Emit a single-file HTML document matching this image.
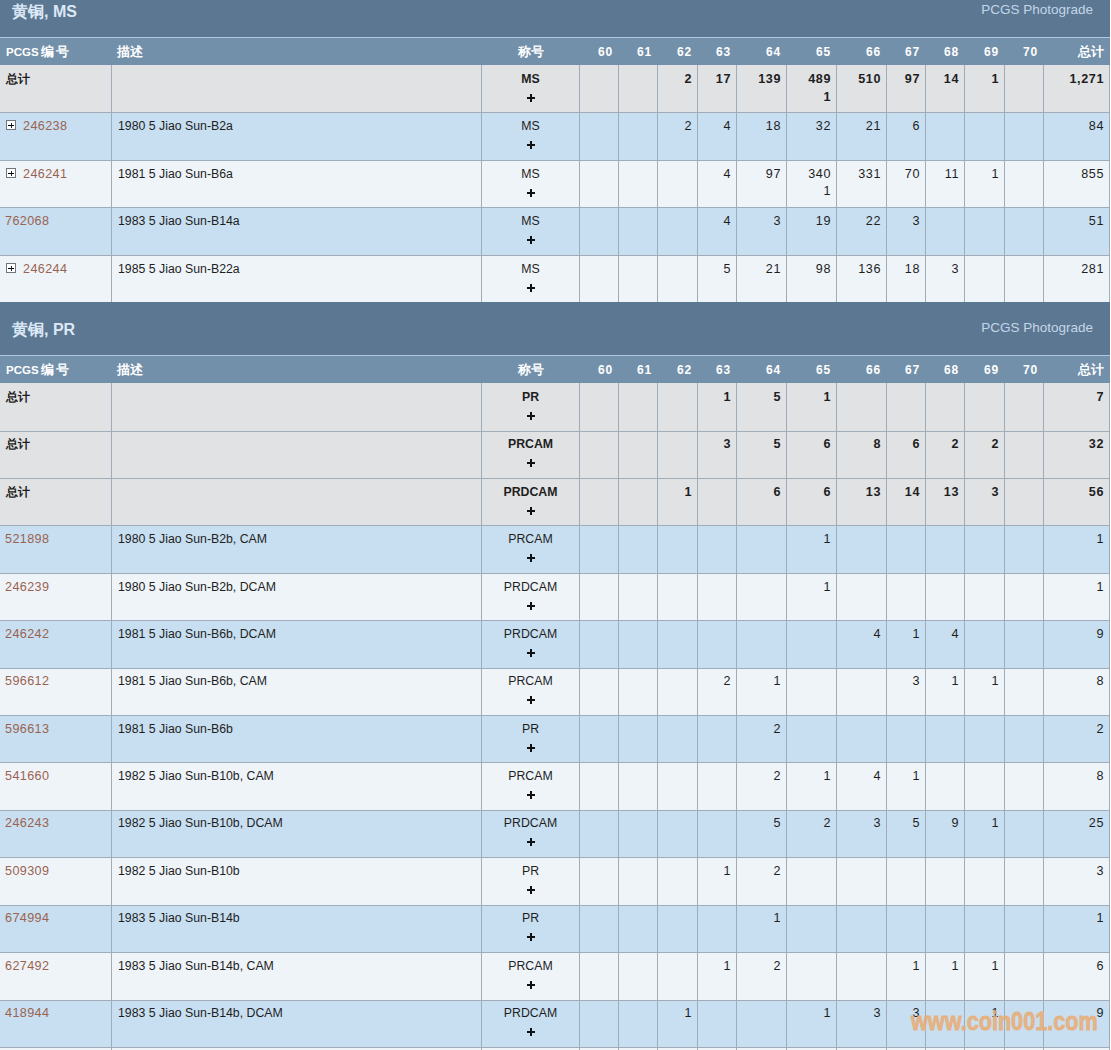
<!DOCTYPE html><html><head><meta charset="utf-8"><style>
html,body{margin:0;padding:0;background:#ffffff;width:1111px;height:1050px;overflow:hidden;}
body{position:relative;font-family:"Liberation Sans",sans-serif;}
body>div{position:absolute;box-sizing:border-box;white-space:nowrap;}
.title{font-size:16px;font-weight:bold;color:#dbe8f5;line-height:22px;}
.photo{font-size:13.5px;color:#c3d6e9;line-height:18px;text-align:right;}
.hd{font-size:11.5px;font-weight:bold;color:#ffffff;line-height:15px;}
.hdn{font-size:12px;letter-spacing:0.8px;}
.hdc{font-size:12.5px;font-weight:bold;color:#ffffff;line-height:15px;}
.tc{font-size:12.3px;color:#1e1e1e;line-height:15px;}
.tc.b{font-weight:bold;}
.num{font-size:12.6px;letter-spacing:0.6px;}
.tz{font-weight:600;}
.lk{color:#9a6350;font-size:12.6px;letter-spacing:0.4px;}
.pl{width:8px;height:8px;}
.pl::before{content:"";position:absolute;left:0;top:3px;width:8px;height:2px;background:#111;}
.pl::after{content:"";position:absolute;left:3px;top:0;width:2px;height:8px;background:#111;}
.box{width:10px;height:10px;border:1px solid #6e7780;background:#fff;}
.box::before{content:"";position:absolute;left:1px;top:4px;width:6px;height:1px;background:#000;}
.box::after{content:"";position:absolute;left:4px;top:2px;width:1px;height:5px;background:#222;}
.wm{font-size:25px;font-weight:bold;color:rgba(234,170,110,0.8);line-height:30px;transform:scaleX(0.865);transform-origin:0 0;-webkit-text-stroke:0.9px rgba(234,170,110,0.8);}
</style></head><body><div style="left:0px;top:-16px;width:1110px;height:53px;background:#5c7791"></div>
<div style="left:0px;top:37px;width:1110px;height:1px;background:#afc6db"></div>
<div class="title" style="left:12px;top:1px"><span class="tz">黄铜</span>, MS</div>
<div class="photo" style="left:900px;width:193px;top:1px">PCGS Photograde</div>
<div style="left:0px;top:38px;width:1110px;height:27px;background:#7290aa"></div>
<div class="hd" style="left:6px;top:45px">PCGS</div>
<div class="hdc" style="left:41px;top:45px">编</div>
<div class="hdc" style="left:56px;top:45px">号</div>
<div class="hdc" style="left:117px;top:45px">描述</div>
<div class="hdc" style="left:482px;width:97px;text-align:center;top:45px">称号</div>
<div class="hd hdn" style="left:580px;top:45px;width:33px;text-align:right">60</div>
<div class="hd hdn" style="left:619px;top:45px;width:33px;text-align:right">61</div>
<div class="hd hdn" style="left:658px;top:45px;width:34px;text-align:right">62</div>
<div class="hd hdn" style="left:698px;top:45px;width:33px;text-align:right">63</div>
<div class="hd hdn" style="left:737px;top:45px;width:44px;text-align:right">64</div>
<div class="hd hdn" style="left:787px;top:45px;width:44px;text-align:right">65</div>
<div class="hd hdn" style="left:837px;top:45px;width:44px;text-align:right">66</div>
<div class="hd hdn" style="left:887px;top:45px;width:33px;text-align:right">67</div>
<div class="hd hdn" style="left:926px;top:45px;width:33px;text-align:right">68</div>
<div class="hd hdn" style="left:965px;top:45px;width:34px;text-align:right">69</div>
<div class="hd hdn" style="left:1005px;top:45px;width:33px;text-align:right">70</div>
<div class="hdc" style="left:1044px;width:60px;text-align:right;top:45px">总计</div>
<div style="left:0px;top:65px;width:1110px;height:47px;background:#e1e2e4"></div>
<div style="left:0px;top:112px;width:1110px;height:1px;background:#9fadba"></div>
<div style="left:111px;top:65px;width:1px;height:47px;background:#9fadba"></div>
<div style="left:481px;top:65px;width:1px;height:47px;background:#9fadba"></div>
<div style="left:579px;top:65px;width:1px;height:47px;background:#9fadba"></div>
<div style="left:618px;top:65px;width:1px;height:47px;background:#9fadba"></div>
<div style="left:657px;top:65px;width:1px;height:47px;background:#9fadba"></div>
<div style="left:697px;top:65px;width:1px;height:47px;background:#9fadba"></div>
<div style="left:736px;top:65px;width:1px;height:47px;background:#9fadba"></div>
<div style="left:786px;top:65px;width:1px;height:47px;background:#9fadba"></div>
<div style="left:836px;top:65px;width:1px;height:47px;background:#9fadba"></div>
<div style="left:886px;top:65px;width:1px;height:47px;background:#9fadba"></div>
<div style="left:925px;top:65px;width:1px;height:47px;background:#9fadba"></div>
<div style="left:964px;top:65px;width:1px;height:47px;background:#9fadba"></div>
<div style="left:1004px;top:65px;width:1px;height:47px;background:#9fadba"></div>
<div style="left:1043px;top:65px;width:1px;height:47px;background:#9fadba"></div>
<div style="left:1109px;top:65px;width:1px;height:47px;background:#9fadba"></div>
<div class="tc b" style="left:6px;top:72px">总计</div>
<div class="tc b des" style="left:482px;top:72px;width:97px;text-align:center">MS</div>
<div class="pl" style="left:527px;top:94px"></div>
<div class="tc b num" style="left:658px;top:72px;width:34px;text-align:right">2</div>
<div class="tc b num" style="left:698px;top:72px;width:33px;text-align:right">17</div>
<div class="tc b num" style="left:737px;top:72px;width:44px;text-align:right">139</div>
<div class="tc b num" style="left:787px;top:72px;width:44px;text-align:right">489</div>
<div class="tc b num" style="left:787px;top:90px;width:44px;text-align:right">1</div>
<div class="tc b num" style="left:837px;top:72px;width:44px;text-align:right">510</div>
<div class="tc b num" style="left:887px;top:72px;width:33px;text-align:right">97</div>
<div class="tc b num" style="left:926px;top:72px;width:33px;text-align:right">14</div>
<div class="tc b num" style="left:965px;top:72px;width:34px;text-align:right">1</div>
<div class="tc b num" style="left:1044px;top:72px;width:60px;text-align:right">1,271</div>
<div style="left:0px;top:113px;width:1110px;height:47px;background:#c8def1"></div>
<div style="left:0px;top:160px;width:1110px;height:1px;background:#9fadba"></div>
<div style="left:111px;top:113px;width:1px;height:47px;background:#9fadba"></div>
<div style="left:481px;top:113px;width:1px;height:47px;background:#9fadba"></div>
<div style="left:579px;top:113px;width:1px;height:47px;background:#9fadba"></div>
<div style="left:618px;top:113px;width:1px;height:47px;background:#9fadba"></div>
<div style="left:657px;top:113px;width:1px;height:47px;background:#9fadba"></div>
<div style="left:697px;top:113px;width:1px;height:47px;background:#9fadba"></div>
<div style="left:736px;top:113px;width:1px;height:47px;background:#9fadba"></div>
<div style="left:786px;top:113px;width:1px;height:47px;background:#9fadba"></div>
<div style="left:836px;top:113px;width:1px;height:47px;background:#9fadba"></div>
<div style="left:886px;top:113px;width:1px;height:47px;background:#9fadba"></div>
<div style="left:925px;top:113px;width:1px;height:47px;background:#9fadba"></div>
<div style="left:964px;top:113px;width:1px;height:47px;background:#9fadba"></div>
<div style="left:1004px;top:113px;width:1px;height:47px;background:#9fadba"></div>
<div style="left:1043px;top:113px;width:1px;height:47px;background:#9fadba"></div>
<div style="left:1109px;top:113px;width:1px;height:47px;background:#9fadba"></div>
<div class="box" style="left:6px;top:120px"></div>
<div class="tc" style="left:23px;top:119px;width:88px;text-align:left"><span class="lk">246238</span></div>
<div class="tc" style="left:118px;top:119px;width:360px;text-align:left">1980 5 Jiao Sun-B2a</div>
<div class="tc des" style="left:482px;top:119px;width:97px;text-align:center">MS</div>
<div class="pl" style="left:527px;top:141px"></div>
<div class="tc num" style="left:658px;top:119px;width:34px;text-align:right">2</div>
<div class="tc num" style="left:698px;top:119px;width:33px;text-align:right">4</div>
<div class="tc num" style="left:737px;top:119px;width:44px;text-align:right">18</div>
<div class="tc num" style="left:787px;top:119px;width:44px;text-align:right">32</div>
<div class="tc num" style="left:837px;top:119px;width:44px;text-align:right">21</div>
<div class="tc num" style="left:887px;top:119px;width:33px;text-align:right">6</div>
<div class="tc num" style="left:1044px;top:119px;width:60px;text-align:right">84</div>
<div style="left:0px;top:161px;width:1110px;height:46px;background:#eff4f9"></div>
<div style="left:0px;top:207px;width:1110px;height:1px;background:#9fadba"></div>
<div style="left:111px;top:161px;width:1px;height:46px;background:#9fadba"></div>
<div style="left:481px;top:161px;width:1px;height:46px;background:#9fadba"></div>
<div style="left:579px;top:161px;width:1px;height:46px;background:#9fadba"></div>
<div style="left:618px;top:161px;width:1px;height:46px;background:#9fadba"></div>
<div style="left:657px;top:161px;width:1px;height:46px;background:#9fadba"></div>
<div style="left:697px;top:161px;width:1px;height:46px;background:#9fadba"></div>
<div style="left:736px;top:161px;width:1px;height:46px;background:#9fadba"></div>
<div style="left:786px;top:161px;width:1px;height:46px;background:#9fadba"></div>
<div style="left:836px;top:161px;width:1px;height:46px;background:#9fadba"></div>
<div style="left:886px;top:161px;width:1px;height:46px;background:#9fadba"></div>
<div style="left:925px;top:161px;width:1px;height:46px;background:#9fadba"></div>
<div style="left:964px;top:161px;width:1px;height:46px;background:#9fadba"></div>
<div style="left:1004px;top:161px;width:1px;height:46px;background:#9fadba"></div>
<div style="left:1043px;top:161px;width:1px;height:46px;background:#9fadba"></div>
<div style="left:1109px;top:161px;width:1px;height:46px;background:#9fadba"></div>
<div class="box" style="left:6px;top:168px"></div>
<div class="tc" style="left:23px;top:167px;width:88px;text-align:left"><span class="lk">246241</span></div>
<div class="tc" style="left:118px;top:167px;width:360px;text-align:left">1981 5 Jiao Sun-B6a</div>
<div class="tc des" style="left:482px;top:167px;width:97px;text-align:center">MS</div>
<div class="pl" style="left:527px;top:189px"></div>
<div class="tc num" style="left:698px;top:167px;width:33px;text-align:right">4</div>
<div class="tc num" style="left:737px;top:167px;width:44px;text-align:right">97</div>
<div class="tc num" style="left:787px;top:167px;width:44px;text-align:right">340</div>
<div class="tc num" style="left:787px;top:184px;width:44px;text-align:right">1</div>
<div class="tc num" style="left:837px;top:167px;width:44px;text-align:right">331</div>
<div class="tc num" style="left:887px;top:167px;width:33px;text-align:right">70</div>
<div class="tc num" style="left:926px;top:167px;width:33px;text-align:right">11</div>
<div class="tc num" style="left:965px;top:167px;width:34px;text-align:right">1</div>
<div class="tc num" style="left:1044px;top:167px;width:60px;text-align:right">855</div>
<div style="left:0px;top:208px;width:1110px;height:47px;background:#c8def1"></div>
<div style="left:0px;top:255px;width:1110px;height:1px;background:#9fadba"></div>
<div style="left:111px;top:208px;width:1px;height:47px;background:#9fadba"></div>
<div style="left:481px;top:208px;width:1px;height:47px;background:#9fadba"></div>
<div style="left:579px;top:208px;width:1px;height:47px;background:#9fadba"></div>
<div style="left:618px;top:208px;width:1px;height:47px;background:#9fadba"></div>
<div style="left:657px;top:208px;width:1px;height:47px;background:#9fadba"></div>
<div style="left:697px;top:208px;width:1px;height:47px;background:#9fadba"></div>
<div style="left:736px;top:208px;width:1px;height:47px;background:#9fadba"></div>
<div style="left:786px;top:208px;width:1px;height:47px;background:#9fadba"></div>
<div style="left:836px;top:208px;width:1px;height:47px;background:#9fadba"></div>
<div style="left:886px;top:208px;width:1px;height:47px;background:#9fadba"></div>
<div style="left:925px;top:208px;width:1px;height:47px;background:#9fadba"></div>
<div style="left:964px;top:208px;width:1px;height:47px;background:#9fadba"></div>
<div style="left:1004px;top:208px;width:1px;height:47px;background:#9fadba"></div>
<div style="left:1043px;top:208px;width:1px;height:47px;background:#9fadba"></div>
<div style="left:1109px;top:208px;width:1px;height:47px;background:#9fadba"></div>
<div class="tc" style="left:5px;top:214px;width:105px;text-align:left"><span class="lk">762068</span></div>
<div class="tc" style="left:118px;top:214px;width:360px;text-align:left">1983 5 Jiao Sun-B14a</div>
<div class="tc des" style="left:482px;top:214px;width:97px;text-align:center">MS</div>
<div class="pl" style="left:527px;top:236px"></div>
<div class="tc num" style="left:698px;top:214px;width:33px;text-align:right">4</div>
<div class="tc num" style="left:737px;top:214px;width:44px;text-align:right">3</div>
<div class="tc num" style="left:787px;top:214px;width:44px;text-align:right">19</div>
<div class="tc num" style="left:837px;top:214px;width:44px;text-align:right">22</div>
<div class="tc num" style="left:887px;top:214px;width:33px;text-align:right">3</div>
<div class="tc num" style="left:1044px;top:214px;width:60px;text-align:right">51</div>
<div style="left:0px;top:256px;width:1110px;height:46px;background:#eff4f9"></div>
<div style="left:0px;top:302px;width:1110px;height:1px;background:#9fadba"></div>
<div style="left:111px;top:256px;width:1px;height:46px;background:#9fadba"></div>
<div style="left:481px;top:256px;width:1px;height:46px;background:#9fadba"></div>
<div style="left:579px;top:256px;width:1px;height:46px;background:#9fadba"></div>
<div style="left:618px;top:256px;width:1px;height:46px;background:#9fadba"></div>
<div style="left:657px;top:256px;width:1px;height:46px;background:#9fadba"></div>
<div style="left:697px;top:256px;width:1px;height:46px;background:#9fadba"></div>
<div style="left:736px;top:256px;width:1px;height:46px;background:#9fadba"></div>
<div style="left:786px;top:256px;width:1px;height:46px;background:#9fadba"></div>
<div style="left:836px;top:256px;width:1px;height:46px;background:#9fadba"></div>
<div style="left:886px;top:256px;width:1px;height:46px;background:#9fadba"></div>
<div style="left:925px;top:256px;width:1px;height:46px;background:#9fadba"></div>
<div style="left:964px;top:256px;width:1px;height:46px;background:#9fadba"></div>
<div style="left:1004px;top:256px;width:1px;height:46px;background:#9fadba"></div>
<div style="left:1043px;top:256px;width:1px;height:46px;background:#9fadba"></div>
<div style="left:1109px;top:256px;width:1px;height:46px;background:#9fadba"></div>
<div class="box" style="left:6px;top:263px"></div>
<div class="tc" style="left:23px;top:262px;width:88px;text-align:left"><span class="lk">246244</span></div>
<div class="tc" style="left:118px;top:262px;width:360px;text-align:left">1985 5 Jiao Sun-B22a</div>
<div class="tc des" style="left:482px;top:262px;width:97px;text-align:center">MS</div>
<div class="pl" style="left:527px;top:284px"></div>
<div class="tc num" style="left:698px;top:262px;width:33px;text-align:right">5</div>
<div class="tc num" style="left:737px;top:262px;width:44px;text-align:right">21</div>
<div class="tc num" style="left:787px;top:262px;width:44px;text-align:right">98</div>
<div class="tc num" style="left:837px;top:262px;width:44px;text-align:right">136</div>
<div class="tc num" style="left:887px;top:262px;width:33px;text-align:right">18</div>
<div class="tc num" style="left:926px;top:262px;width:33px;text-align:right">3</div>
<div class="tc num" style="left:1044px;top:262px;width:60px;text-align:right">281</div>
<div style="left:0px;top:302px;width:1110px;height:53px;background:#5c7791"></div>
<div style="left:0px;top:355px;width:1110px;height:1px;background:#afc6db"></div>
<div class="title" style="left:12px;top:319px"><span class="tz">黄铜</span>, PR</div>
<div class="photo" style="left:900px;width:193px;top:319px">PCGS Photograde</div>
<div style="left:0px;top:356px;width:1110px;height:27px;background:#7290aa"></div>
<div class="hd" style="left:6px;top:363px">PCGS</div>
<div class="hdc" style="left:41px;top:363px">编</div>
<div class="hdc" style="left:56px;top:363px">号</div>
<div class="hdc" style="left:117px;top:363px">描述</div>
<div class="hdc" style="left:482px;width:97px;text-align:center;top:363px">称号</div>
<div class="hd hdn" style="left:580px;top:363px;width:33px;text-align:right">60</div>
<div class="hd hdn" style="left:619px;top:363px;width:33px;text-align:right">61</div>
<div class="hd hdn" style="left:658px;top:363px;width:34px;text-align:right">62</div>
<div class="hd hdn" style="left:698px;top:363px;width:33px;text-align:right">63</div>
<div class="hd hdn" style="left:737px;top:363px;width:44px;text-align:right">64</div>
<div class="hd hdn" style="left:787px;top:363px;width:44px;text-align:right">65</div>
<div class="hd hdn" style="left:837px;top:363px;width:44px;text-align:right">66</div>
<div class="hd hdn" style="left:887px;top:363px;width:33px;text-align:right">67</div>
<div class="hd hdn" style="left:926px;top:363px;width:33px;text-align:right">68</div>
<div class="hd hdn" style="left:965px;top:363px;width:34px;text-align:right">69</div>
<div class="hd hdn" style="left:1005px;top:363px;width:33px;text-align:right">70</div>
<div class="hdc" style="left:1044px;width:60px;text-align:right;top:363px">总计</div>
<div style="left:0px;top:383px;width:1110px;height:48px;background:#e1e2e4"></div>
<div style="left:0px;top:431px;width:1110px;height:1px;background:#9fadba"></div>
<div style="left:111px;top:383px;width:1px;height:48px;background:#9fadba"></div>
<div style="left:481px;top:383px;width:1px;height:48px;background:#9fadba"></div>
<div style="left:579px;top:383px;width:1px;height:48px;background:#9fadba"></div>
<div style="left:618px;top:383px;width:1px;height:48px;background:#9fadba"></div>
<div style="left:657px;top:383px;width:1px;height:48px;background:#9fadba"></div>
<div style="left:697px;top:383px;width:1px;height:48px;background:#9fadba"></div>
<div style="left:736px;top:383px;width:1px;height:48px;background:#9fadba"></div>
<div style="left:786px;top:383px;width:1px;height:48px;background:#9fadba"></div>
<div style="left:836px;top:383px;width:1px;height:48px;background:#9fadba"></div>
<div style="left:886px;top:383px;width:1px;height:48px;background:#9fadba"></div>
<div style="left:925px;top:383px;width:1px;height:48px;background:#9fadba"></div>
<div style="left:964px;top:383px;width:1px;height:48px;background:#9fadba"></div>
<div style="left:1004px;top:383px;width:1px;height:48px;background:#9fadba"></div>
<div style="left:1043px;top:383px;width:1px;height:48px;background:#9fadba"></div>
<div style="left:1109px;top:383px;width:1px;height:48px;background:#9fadba"></div>
<div class="tc b" style="left:6px;top:390px">总计</div>
<div class="tc b des" style="left:482px;top:390px;width:97px;text-align:center">PR</div>
<div class="pl" style="left:527px;top:412px"></div>
<div class="tc b num" style="left:698px;top:390px;width:33px;text-align:right">1</div>
<div class="tc b num" style="left:737px;top:390px;width:44px;text-align:right">5</div>
<div class="tc b num" style="left:787px;top:390px;width:44px;text-align:right">1</div>
<div class="tc b num" style="left:1044px;top:390px;width:60px;text-align:right">7</div>
<div style="left:0px;top:432px;width:1110px;height:46px;background:#e1e2e4"></div>
<div style="left:0px;top:478px;width:1110px;height:1px;background:#9fadba"></div>
<div style="left:111px;top:432px;width:1px;height:46px;background:#9fadba"></div>
<div style="left:481px;top:432px;width:1px;height:46px;background:#9fadba"></div>
<div style="left:579px;top:432px;width:1px;height:46px;background:#9fadba"></div>
<div style="left:618px;top:432px;width:1px;height:46px;background:#9fadba"></div>
<div style="left:657px;top:432px;width:1px;height:46px;background:#9fadba"></div>
<div style="left:697px;top:432px;width:1px;height:46px;background:#9fadba"></div>
<div style="left:736px;top:432px;width:1px;height:46px;background:#9fadba"></div>
<div style="left:786px;top:432px;width:1px;height:46px;background:#9fadba"></div>
<div style="left:836px;top:432px;width:1px;height:46px;background:#9fadba"></div>
<div style="left:886px;top:432px;width:1px;height:46px;background:#9fadba"></div>
<div style="left:925px;top:432px;width:1px;height:46px;background:#9fadba"></div>
<div style="left:964px;top:432px;width:1px;height:46px;background:#9fadba"></div>
<div style="left:1004px;top:432px;width:1px;height:46px;background:#9fadba"></div>
<div style="left:1043px;top:432px;width:1px;height:46px;background:#9fadba"></div>
<div style="left:1109px;top:432px;width:1px;height:46px;background:#9fadba"></div>
<div class="tc b" style="left:6px;top:437px">总计</div>
<div class="tc b des" style="left:482px;top:437px;width:97px;text-align:center">PRCAM</div>
<div class="pl" style="left:527px;top:459px"></div>
<div class="tc b num" style="left:698px;top:437px;width:33px;text-align:right">3</div>
<div class="tc b num" style="left:737px;top:437px;width:44px;text-align:right">5</div>
<div class="tc b num" style="left:787px;top:437px;width:44px;text-align:right">6</div>
<div class="tc b num" style="left:837px;top:437px;width:44px;text-align:right">8</div>
<div class="tc b num" style="left:887px;top:437px;width:33px;text-align:right">6</div>
<div class="tc b num" style="left:926px;top:437px;width:33px;text-align:right">2</div>
<div class="tc b num" style="left:965px;top:437px;width:34px;text-align:right">2</div>
<div class="tc b num" style="left:1044px;top:437px;width:60px;text-align:right">32</div>
<div style="left:0px;top:479px;width:1110px;height:46px;background:#e1e2e4"></div>
<div style="left:0px;top:525px;width:1110px;height:1px;background:#9fadba"></div>
<div style="left:111px;top:479px;width:1px;height:46px;background:#9fadba"></div>
<div style="left:481px;top:479px;width:1px;height:46px;background:#9fadba"></div>
<div style="left:579px;top:479px;width:1px;height:46px;background:#9fadba"></div>
<div style="left:618px;top:479px;width:1px;height:46px;background:#9fadba"></div>
<div style="left:657px;top:479px;width:1px;height:46px;background:#9fadba"></div>
<div style="left:697px;top:479px;width:1px;height:46px;background:#9fadba"></div>
<div style="left:736px;top:479px;width:1px;height:46px;background:#9fadba"></div>
<div style="left:786px;top:479px;width:1px;height:46px;background:#9fadba"></div>
<div style="left:836px;top:479px;width:1px;height:46px;background:#9fadba"></div>
<div style="left:886px;top:479px;width:1px;height:46px;background:#9fadba"></div>
<div style="left:925px;top:479px;width:1px;height:46px;background:#9fadba"></div>
<div style="left:964px;top:479px;width:1px;height:46px;background:#9fadba"></div>
<div style="left:1004px;top:479px;width:1px;height:46px;background:#9fadba"></div>
<div style="left:1043px;top:479px;width:1px;height:46px;background:#9fadba"></div>
<div style="left:1109px;top:479px;width:1px;height:46px;background:#9fadba"></div>
<div class="tc b" style="left:6px;top:485px">总计</div>
<div class="tc b des" style="left:482px;top:485px;width:97px;text-align:center">PRDCAM</div>
<div class="pl" style="left:527px;top:507px"></div>
<div class="tc b num" style="left:658px;top:485px;width:34px;text-align:right">1</div>
<div class="tc b num" style="left:737px;top:485px;width:44px;text-align:right">6</div>
<div class="tc b num" style="left:787px;top:485px;width:44px;text-align:right">6</div>
<div class="tc b num" style="left:837px;top:485px;width:44px;text-align:right">13</div>
<div class="tc b num" style="left:887px;top:485px;width:33px;text-align:right">14</div>
<div class="tc b num" style="left:926px;top:485px;width:33px;text-align:right">13</div>
<div class="tc b num" style="left:965px;top:485px;width:34px;text-align:right">3</div>
<div class="tc b num" style="left:1044px;top:485px;width:60px;text-align:right">56</div>
<div style="left:0px;top:526px;width:1110px;height:47px;background:#c8def1"></div>
<div style="left:0px;top:573px;width:1110px;height:1px;background:#9fadba"></div>
<div style="left:111px;top:526px;width:1px;height:47px;background:#9fadba"></div>
<div style="left:481px;top:526px;width:1px;height:47px;background:#9fadba"></div>
<div style="left:579px;top:526px;width:1px;height:47px;background:#9fadba"></div>
<div style="left:618px;top:526px;width:1px;height:47px;background:#9fadba"></div>
<div style="left:657px;top:526px;width:1px;height:47px;background:#9fadba"></div>
<div style="left:697px;top:526px;width:1px;height:47px;background:#9fadba"></div>
<div style="left:736px;top:526px;width:1px;height:47px;background:#9fadba"></div>
<div style="left:786px;top:526px;width:1px;height:47px;background:#9fadba"></div>
<div style="left:836px;top:526px;width:1px;height:47px;background:#9fadba"></div>
<div style="left:886px;top:526px;width:1px;height:47px;background:#9fadba"></div>
<div style="left:925px;top:526px;width:1px;height:47px;background:#9fadba"></div>
<div style="left:964px;top:526px;width:1px;height:47px;background:#9fadba"></div>
<div style="left:1004px;top:526px;width:1px;height:47px;background:#9fadba"></div>
<div style="left:1043px;top:526px;width:1px;height:47px;background:#9fadba"></div>
<div style="left:1109px;top:526px;width:1px;height:47px;background:#9fadba"></div>
<div class="tc" style="left:5px;top:532px;width:105px;text-align:left"><span class="lk">521898</span></div>
<div class="tc" style="left:118px;top:532px;width:360px;text-align:left">1980 5 Jiao Sun-B2b, CAM</div>
<div class="tc des" style="left:482px;top:532px;width:97px;text-align:center">PRCAM</div>
<div class="pl" style="left:527px;top:554px"></div>
<div class="tc num" style="left:787px;top:532px;width:44px;text-align:right">1</div>
<div class="tc num" style="left:1044px;top:532px;width:60px;text-align:right">1</div>
<div style="left:0px;top:574px;width:1110px;height:46px;background:#eff4f9"></div>
<div style="left:0px;top:620px;width:1110px;height:1px;background:#9fadba"></div>
<div style="left:111px;top:574px;width:1px;height:46px;background:#9fadba"></div>
<div style="left:481px;top:574px;width:1px;height:46px;background:#9fadba"></div>
<div style="left:579px;top:574px;width:1px;height:46px;background:#9fadba"></div>
<div style="left:618px;top:574px;width:1px;height:46px;background:#9fadba"></div>
<div style="left:657px;top:574px;width:1px;height:46px;background:#9fadba"></div>
<div style="left:697px;top:574px;width:1px;height:46px;background:#9fadba"></div>
<div style="left:736px;top:574px;width:1px;height:46px;background:#9fadba"></div>
<div style="left:786px;top:574px;width:1px;height:46px;background:#9fadba"></div>
<div style="left:836px;top:574px;width:1px;height:46px;background:#9fadba"></div>
<div style="left:886px;top:574px;width:1px;height:46px;background:#9fadba"></div>
<div style="left:925px;top:574px;width:1px;height:46px;background:#9fadba"></div>
<div style="left:964px;top:574px;width:1px;height:46px;background:#9fadba"></div>
<div style="left:1004px;top:574px;width:1px;height:46px;background:#9fadba"></div>
<div style="left:1043px;top:574px;width:1px;height:46px;background:#9fadba"></div>
<div style="left:1109px;top:574px;width:1px;height:46px;background:#9fadba"></div>
<div class="tc" style="left:5px;top:580px;width:105px;text-align:left"><span class="lk">246239</span></div>
<div class="tc" style="left:118px;top:580px;width:360px;text-align:left">1980 5 Jiao Sun-B2b, DCAM</div>
<div class="tc des" style="left:482px;top:580px;width:97px;text-align:center">PRDCAM</div>
<div class="pl" style="left:527px;top:602px"></div>
<div class="tc num" style="left:787px;top:580px;width:44px;text-align:right">1</div>
<div class="tc num" style="left:1044px;top:580px;width:60px;text-align:right">1</div>
<div style="left:0px;top:621px;width:1110px;height:47px;background:#c8def1"></div>
<div style="left:0px;top:668px;width:1110px;height:1px;background:#9fadba"></div>
<div style="left:111px;top:621px;width:1px;height:47px;background:#9fadba"></div>
<div style="left:481px;top:621px;width:1px;height:47px;background:#9fadba"></div>
<div style="left:579px;top:621px;width:1px;height:47px;background:#9fadba"></div>
<div style="left:618px;top:621px;width:1px;height:47px;background:#9fadba"></div>
<div style="left:657px;top:621px;width:1px;height:47px;background:#9fadba"></div>
<div style="left:697px;top:621px;width:1px;height:47px;background:#9fadba"></div>
<div style="left:736px;top:621px;width:1px;height:47px;background:#9fadba"></div>
<div style="left:786px;top:621px;width:1px;height:47px;background:#9fadba"></div>
<div style="left:836px;top:621px;width:1px;height:47px;background:#9fadba"></div>
<div style="left:886px;top:621px;width:1px;height:47px;background:#9fadba"></div>
<div style="left:925px;top:621px;width:1px;height:47px;background:#9fadba"></div>
<div style="left:964px;top:621px;width:1px;height:47px;background:#9fadba"></div>
<div style="left:1004px;top:621px;width:1px;height:47px;background:#9fadba"></div>
<div style="left:1043px;top:621px;width:1px;height:47px;background:#9fadba"></div>
<div style="left:1109px;top:621px;width:1px;height:47px;background:#9fadba"></div>
<div class="tc" style="left:5px;top:627px;width:105px;text-align:left"><span class="lk">246242</span></div>
<div class="tc" style="left:118px;top:627px;width:360px;text-align:left">1981 5 Jiao Sun-B6b, DCAM</div>
<div class="tc des" style="left:482px;top:627px;width:97px;text-align:center">PRDCAM</div>
<div class="pl" style="left:527px;top:649px"></div>
<div class="tc num" style="left:837px;top:627px;width:44px;text-align:right">4</div>
<div class="tc num" style="left:887px;top:627px;width:33px;text-align:right">1</div>
<div class="tc num" style="left:926px;top:627px;width:33px;text-align:right">4</div>
<div class="tc num" style="left:1044px;top:627px;width:60px;text-align:right">9</div>
<div style="left:0px;top:669px;width:1110px;height:46px;background:#eff4f9"></div>
<div style="left:0px;top:715px;width:1110px;height:1px;background:#9fadba"></div>
<div style="left:111px;top:669px;width:1px;height:46px;background:#9fadba"></div>
<div style="left:481px;top:669px;width:1px;height:46px;background:#9fadba"></div>
<div style="left:579px;top:669px;width:1px;height:46px;background:#9fadba"></div>
<div style="left:618px;top:669px;width:1px;height:46px;background:#9fadba"></div>
<div style="left:657px;top:669px;width:1px;height:46px;background:#9fadba"></div>
<div style="left:697px;top:669px;width:1px;height:46px;background:#9fadba"></div>
<div style="left:736px;top:669px;width:1px;height:46px;background:#9fadba"></div>
<div style="left:786px;top:669px;width:1px;height:46px;background:#9fadba"></div>
<div style="left:836px;top:669px;width:1px;height:46px;background:#9fadba"></div>
<div style="left:886px;top:669px;width:1px;height:46px;background:#9fadba"></div>
<div style="left:925px;top:669px;width:1px;height:46px;background:#9fadba"></div>
<div style="left:964px;top:669px;width:1px;height:46px;background:#9fadba"></div>
<div style="left:1004px;top:669px;width:1px;height:46px;background:#9fadba"></div>
<div style="left:1043px;top:669px;width:1px;height:46px;background:#9fadba"></div>
<div style="left:1109px;top:669px;width:1px;height:46px;background:#9fadba"></div>
<div class="tc" style="left:5px;top:674px;width:105px;text-align:left"><span class="lk">596612</span></div>
<div class="tc" style="left:118px;top:674px;width:360px;text-align:left">1981 5 Jiao Sun-B6b, CAM</div>
<div class="tc des" style="left:482px;top:674px;width:97px;text-align:center">PRCAM</div>
<div class="pl" style="left:527px;top:696px"></div>
<div class="tc num" style="left:698px;top:674px;width:33px;text-align:right">2</div>
<div class="tc num" style="left:737px;top:674px;width:44px;text-align:right">1</div>
<div class="tc num" style="left:887px;top:674px;width:33px;text-align:right">3</div>
<div class="tc num" style="left:926px;top:674px;width:33px;text-align:right">1</div>
<div class="tc num" style="left:965px;top:674px;width:34px;text-align:right">1</div>
<div class="tc num" style="left:1044px;top:674px;width:60px;text-align:right">8</div>
<div style="left:0px;top:716px;width:1110px;height:46px;background:#c8def1"></div>
<div style="left:0px;top:762px;width:1110px;height:1px;background:#9fadba"></div>
<div style="left:111px;top:716px;width:1px;height:46px;background:#9fadba"></div>
<div style="left:481px;top:716px;width:1px;height:46px;background:#9fadba"></div>
<div style="left:579px;top:716px;width:1px;height:46px;background:#9fadba"></div>
<div style="left:618px;top:716px;width:1px;height:46px;background:#9fadba"></div>
<div style="left:657px;top:716px;width:1px;height:46px;background:#9fadba"></div>
<div style="left:697px;top:716px;width:1px;height:46px;background:#9fadba"></div>
<div style="left:736px;top:716px;width:1px;height:46px;background:#9fadba"></div>
<div style="left:786px;top:716px;width:1px;height:46px;background:#9fadba"></div>
<div style="left:836px;top:716px;width:1px;height:46px;background:#9fadba"></div>
<div style="left:886px;top:716px;width:1px;height:46px;background:#9fadba"></div>
<div style="left:925px;top:716px;width:1px;height:46px;background:#9fadba"></div>
<div style="left:964px;top:716px;width:1px;height:46px;background:#9fadba"></div>
<div style="left:1004px;top:716px;width:1px;height:46px;background:#9fadba"></div>
<div style="left:1043px;top:716px;width:1px;height:46px;background:#9fadba"></div>
<div style="left:1109px;top:716px;width:1px;height:46px;background:#9fadba"></div>
<div class="tc" style="left:5px;top:722px;width:105px;text-align:left"><span class="lk">596613</span></div>
<div class="tc" style="left:118px;top:722px;width:360px;text-align:left">1981 5 Jiao Sun-B6b</div>
<div class="tc des" style="left:482px;top:722px;width:97px;text-align:center">PR</div>
<div class="pl" style="left:527px;top:744px"></div>
<div class="tc num" style="left:737px;top:722px;width:44px;text-align:right">2</div>
<div class="tc num" style="left:1044px;top:722px;width:60px;text-align:right">2</div>
<div style="left:0px;top:763px;width:1110px;height:47px;background:#eff4f9"></div>
<div style="left:0px;top:810px;width:1110px;height:1px;background:#9fadba"></div>
<div style="left:111px;top:763px;width:1px;height:47px;background:#9fadba"></div>
<div style="left:481px;top:763px;width:1px;height:47px;background:#9fadba"></div>
<div style="left:579px;top:763px;width:1px;height:47px;background:#9fadba"></div>
<div style="left:618px;top:763px;width:1px;height:47px;background:#9fadba"></div>
<div style="left:657px;top:763px;width:1px;height:47px;background:#9fadba"></div>
<div style="left:697px;top:763px;width:1px;height:47px;background:#9fadba"></div>
<div style="left:736px;top:763px;width:1px;height:47px;background:#9fadba"></div>
<div style="left:786px;top:763px;width:1px;height:47px;background:#9fadba"></div>
<div style="left:836px;top:763px;width:1px;height:47px;background:#9fadba"></div>
<div style="left:886px;top:763px;width:1px;height:47px;background:#9fadba"></div>
<div style="left:925px;top:763px;width:1px;height:47px;background:#9fadba"></div>
<div style="left:964px;top:763px;width:1px;height:47px;background:#9fadba"></div>
<div style="left:1004px;top:763px;width:1px;height:47px;background:#9fadba"></div>
<div style="left:1043px;top:763px;width:1px;height:47px;background:#9fadba"></div>
<div style="left:1109px;top:763px;width:1px;height:47px;background:#9fadba"></div>
<div class="tc" style="left:5px;top:769px;width:105px;text-align:left"><span class="lk">541660</span></div>
<div class="tc" style="left:118px;top:769px;width:360px;text-align:left">1982 5 Jiao Sun-B10b, CAM</div>
<div class="tc des" style="left:482px;top:769px;width:97px;text-align:center">PRCAM</div>
<div class="pl" style="left:527px;top:791px"></div>
<div class="tc num" style="left:737px;top:769px;width:44px;text-align:right">2</div>
<div class="tc num" style="left:787px;top:769px;width:44px;text-align:right">1</div>
<div class="tc num" style="left:837px;top:769px;width:44px;text-align:right">4</div>
<div class="tc num" style="left:887px;top:769px;width:33px;text-align:right">1</div>
<div class="tc num" style="left:1044px;top:769px;width:60px;text-align:right">8</div>
<div style="left:0px;top:811px;width:1110px;height:46px;background:#c8def1"></div>
<div style="left:0px;top:857px;width:1110px;height:1px;background:#9fadba"></div>
<div style="left:111px;top:811px;width:1px;height:46px;background:#9fadba"></div>
<div style="left:481px;top:811px;width:1px;height:46px;background:#9fadba"></div>
<div style="left:579px;top:811px;width:1px;height:46px;background:#9fadba"></div>
<div style="left:618px;top:811px;width:1px;height:46px;background:#9fadba"></div>
<div style="left:657px;top:811px;width:1px;height:46px;background:#9fadba"></div>
<div style="left:697px;top:811px;width:1px;height:46px;background:#9fadba"></div>
<div style="left:736px;top:811px;width:1px;height:46px;background:#9fadba"></div>
<div style="left:786px;top:811px;width:1px;height:46px;background:#9fadba"></div>
<div style="left:836px;top:811px;width:1px;height:46px;background:#9fadba"></div>
<div style="left:886px;top:811px;width:1px;height:46px;background:#9fadba"></div>
<div style="left:925px;top:811px;width:1px;height:46px;background:#9fadba"></div>
<div style="left:964px;top:811px;width:1px;height:46px;background:#9fadba"></div>
<div style="left:1004px;top:811px;width:1px;height:46px;background:#9fadba"></div>
<div style="left:1043px;top:811px;width:1px;height:46px;background:#9fadba"></div>
<div style="left:1109px;top:811px;width:1px;height:46px;background:#9fadba"></div>
<div class="tc" style="left:5px;top:816px;width:105px;text-align:left"><span class="lk">246243</span></div>
<div class="tc" style="left:118px;top:816px;width:360px;text-align:left">1982 5 Jiao Sun-B10b, DCAM</div>
<div class="tc des" style="left:482px;top:816px;width:97px;text-align:center">PRDCAM</div>
<div class="pl" style="left:527px;top:838px"></div>
<div class="tc num" style="left:737px;top:816px;width:44px;text-align:right">5</div>
<div class="tc num" style="left:787px;top:816px;width:44px;text-align:right">2</div>
<div class="tc num" style="left:837px;top:816px;width:44px;text-align:right">3</div>
<div class="tc num" style="left:887px;top:816px;width:33px;text-align:right">5</div>
<div class="tc num" style="left:926px;top:816px;width:33px;text-align:right">9</div>
<div class="tc num" style="left:965px;top:816px;width:34px;text-align:right">1</div>
<div class="tc num" style="left:1044px;top:816px;width:60px;text-align:right">25</div>
<div style="left:0px;top:858px;width:1110px;height:47px;background:#eff4f9"></div>
<div style="left:0px;top:905px;width:1110px;height:1px;background:#9fadba"></div>
<div style="left:111px;top:858px;width:1px;height:47px;background:#9fadba"></div>
<div style="left:481px;top:858px;width:1px;height:47px;background:#9fadba"></div>
<div style="left:579px;top:858px;width:1px;height:47px;background:#9fadba"></div>
<div style="left:618px;top:858px;width:1px;height:47px;background:#9fadba"></div>
<div style="left:657px;top:858px;width:1px;height:47px;background:#9fadba"></div>
<div style="left:697px;top:858px;width:1px;height:47px;background:#9fadba"></div>
<div style="left:736px;top:858px;width:1px;height:47px;background:#9fadba"></div>
<div style="left:786px;top:858px;width:1px;height:47px;background:#9fadba"></div>
<div style="left:836px;top:858px;width:1px;height:47px;background:#9fadba"></div>
<div style="left:886px;top:858px;width:1px;height:47px;background:#9fadba"></div>
<div style="left:925px;top:858px;width:1px;height:47px;background:#9fadba"></div>
<div style="left:964px;top:858px;width:1px;height:47px;background:#9fadba"></div>
<div style="left:1004px;top:858px;width:1px;height:47px;background:#9fadba"></div>
<div style="left:1043px;top:858px;width:1px;height:47px;background:#9fadba"></div>
<div style="left:1109px;top:858px;width:1px;height:47px;background:#9fadba"></div>
<div class="tc" style="left:5px;top:864px;width:105px;text-align:left"><span class="lk">509309</span></div>
<div class="tc" style="left:118px;top:864px;width:360px;text-align:left">1982 5 Jiao Sun-B10b</div>
<div class="tc des" style="left:482px;top:864px;width:97px;text-align:center">PR</div>
<div class="pl" style="left:527px;top:886px"></div>
<div class="tc num" style="left:698px;top:864px;width:33px;text-align:right">1</div>
<div class="tc num" style="left:737px;top:864px;width:44px;text-align:right">2</div>
<div class="tc num" style="left:1044px;top:864px;width:60px;text-align:right">3</div>
<div style="left:0px;top:906px;width:1110px;height:46px;background:#c8def1"></div>
<div style="left:0px;top:952px;width:1110px;height:1px;background:#9fadba"></div>
<div style="left:111px;top:906px;width:1px;height:46px;background:#9fadba"></div>
<div style="left:481px;top:906px;width:1px;height:46px;background:#9fadba"></div>
<div style="left:579px;top:906px;width:1px;height:46px;background:#9fadba"></div>
<div style="left:618px;top:906px;width:1px;height:46px;background:#9fadba"></div>
<div style="left:657px;top:906px;width:1px;height:46px;background:#9fadba"></div>
<div style="left:697px;top:906px;width:1px;height:46px;background:#9fadba"></div>
<div style="left:736px;top:906px;width:1px;height:46px;background:#9fadba"></div>
<div style="left:786px;top:906px;width:1px;height:46px;background:#9fadba"></div>
<div style="left:836px;top:906px;width:1px;height:46px;background:#9fadba"></div>
<div style="left:886px;top:906px;width:1px;height:46px;background:#9fadba"></div>
<div style="left:925px;top:906px;width:1px;height:46px;background:#9fadba"></div>
<div style="left:964px;top:906px;width:1px;height:46px;background:#9fadba"></div>
<div style="left:1004px;top:906px;width:1px;height:46px;background:#9fadba"></div>
<div style="left:1043px;top:906px;width:1px;height:46px;background:#9fadba"></div>
<div style="left:1109px;top:906px;width:1px;height:46px;background:#9fadba"></div>
<div class="tc" style="left:5px;top:911px;width:105px;text-align:left"><span class="lk">674994</span></div>
<div class="tc" style="left:118px;top:911px;width:360px;text-align:left">1983 5 Jiao Sun-B14b</div>
<div class="tc des" style="left:482px;top:911px;width:97px;text-align:center">PR</div>
<div class="pl" style="left:527px;top:933px"></div>
<div class="tc num" style="left:737px;top:911px;width:44px;text-align:right">1</div>
<div class="tc num" style="left:1044px;top:911px;width:60px;text-align:right">1</div>
<div style="left:0px;top:953px;width:1110px;height:47px;background:#eff4f9"></div>
<div style="left:0px;top:1000px;width:1110px;height:1px;background:#9fadba"></div>
<div style="left:111px;top:953px;width:1px;height:47px;background:#9fadba"></div>
<div style="left:481px;top:953px;width:1px;height:47px;background:#9fadba"></div>
<div style="left:579px;top:953px;width:1px;height:47px;background:#9fadba"></div>
<div style="left:618px;top:953px;width:1px;height:47px;background:#9fadba"></div>
<div style="left:657px;top:953px;width:1px;height:47px;background:#9fadba"></div>
<div style="left:697px;top:953px;width:1px;height:47px;background:#9fadba"></div>
<div style="left:736px;top:953px;width:1px;height:47px;background:#9fadba"></div>
<div style="left:786px;top:953px;width:1px;height:47px;background:#9fadba"></div>
<div style="left:836px;top:953px;width:1px;height:47px;background:#9fadba"></div>
<div style="left:886px;top:953px;width:1px;height:47px;background:#9fadba"></div>
<div style="left:925px;top:953px;width:1px;height:47px;background:#9fadba"></div>
<div style="left:964px;top:953px;width:1px;height:47px;background:#9fadba"></div>
<div style="left:1004px;top:953px;width:1px;height:47px;background:#9fadba"></div>
<div style="left:1043px;top:953px;width:1px;height:47px;background:#9fadba"></div>
<div style="left:1109px;top:953px;width:1px;height:47px;background:#9fadba"></div>
<div class="tc" style="left:5px;top:959px;width:105px;text-align:left"><span class="lk">627492</span></div>
<div class="tc" style="left:118px;top:959px;width:360px;text-align:left">1983 5 Jiao Sun-B14b, CAM</div>
<div class="tc des" style="left:482px;top:959px;width:97px;text-align:center">PRCAM</div>
<div class="pl" style="left:527px;top:981px"></div>
<div class="tc num" style="left:698px;top:959px;width:33px;text-align:right">1</div>
<div class="tc num" style="left:737px;top:959px;width:44px;text-align:right">2</div>
<div class="tc num" style="left:887px;top:959px;width:33px;text-align:right">1</div>
<div class="tc num" style="left:926px;top:959px;width:33px;text-align:right">1</div>
<div class="tc num" style="left:965px;top:959px;width:34px;text-align:right">1</div>
<div class="tc num" style="left:1044px;top:959px;width:60px;text-align:right">6</div>
<div style="left:0px;top:1001px;width:1110px;height:46px;background:#c8def1"></div>
<div style="left:0px;top:1047px;width:1110px;height:1px;background:#9fadba"></div>
<div style="left:111px;top:1001px;width:1px;height:46px;background:#9fadba"></div>
<div style="left:481px;top:1001px;width:1px;height:46px;background:#9fadba"></div>
<div style="left:579px;top:1001px;width:1px;height:46px;background:#9fadba"></div>
<div style="left:618px;top:1001px;width:1px;height:46px;background:#9fadba"></div>
<div style="left:657px;top:1001px;width:1px;height:46px;background:#9fadba"></div>
<div style="left:697px;top:1001px;width:1px;height:46px;background:#9fadba"></div>
<div style="left:736px;top:1001px;width:1px;height:46px;background:#9fadba"></div>
<div style="left:786px;top:1001px;width:1px;height:46px;background:#9fadba"></div>
<div style="left:836px;top:1001px;width:1px;height:46px;background:#9fadba"></div>
<div style="left:886px;top:1001px;width:1px;height:46px;background:#9fadba"></div>
<div style="left:925px;top:1001px;width:1px;height:46px;background:#9fadba"></div>
<div style="left:964px;top:1001px;width:1px;height:46px;background:#9fadba"></div>
<div style="left:1004px;top:1001px;width:1px;height:46px;background:#9fadba"></div>
<div style="left:1043px;top:1001px;width:1px;height:46px;background:#9fadba"></div>
<div style="left:1109px;top:1001px;width:1px;height:46px;background:#9fadba"></div>
<div class="tc" style="left:5px;top:1006px;width:105px;text-align:left"><span class="lk">418944</span></div>
<div class="tc" style="left:118px;top:1006px;width:360px;text-align:left">1983 5 Jiao Sun-B14b, DCAM</div>
<div class="tc des" style="left:482px;top:1006px;width:97px;text-align:center">PRDCAM</div>
<div class="pl" style="left:527px;top:1028px"></div>
<div class="tc num" style="left:658px;top:1006px;width:34px;text-align:right">1</div>
<div class="tc num" style="left:787px;top:1006px;width:44px;text-align:right">1</div>
<div class="tc num" style="left:837px;top:1006px;width:44px;text-align:right">3</div>
<div class="tc num" style="left:887px;top:1006px;width:33px;text-align:right">3</div>
<div class="tc num" style="left:965px;top:1006px;width:34px;text-align:right">1</div>
<div class="tc num" style="left:1044px;top:1006px;width:60px;text-align:right">9</div>
<div style="left:0px;top:1048px;width:1110px;height:10px;background:#eff4f9"></div>
<div style="left:111px;top:1048px;width:1px;height:10px;background:#9fadba"></div>
<div style="left:481px;top:1048px;width:1px;height:10px;background:#9fadba"></div>
<div style="left:579px;top:1048px;width:1px;height:10px;background:#9fadba"></div>
<div style="left:618px;top:1048px;width:1px;height:10px;background:#9fadba"></div>
<div style="left:657px;top:1048px;width:1px;height:10px;background:#9fadba"></div>
<div style="left:697px;top:1048px;width:1px;height:10px;background:#9fadba"></div>
<div style="left:736px;top:1048px;width:1px;height:10px;background:#9fadba"></div>
<div style="left:786px;top:1048px;width:1px;height:10px;background:#9fadba"></div>
<div style="left:836px;top:1048px;width:1px;height:10px;background:#9fadba"></div>
<div style="left:886px;top:1048px;width:1px;height:10px;background:#9fadba"></div>
<div style="left:925px;top:1048px;width:1px;height:10px;background:#9fadba"></div>
<div style="left:964px;top:1048px;width:1px;height:10px;background:#9fadba"></div>
<div style="left:1004px;top:1048px;width:1px;height:10px;background:#9fadba"></div>
<div style="left:1043px;top:1048px;width:1px;height:10px;background:#9fadba"></div>
<div style="left:1109px;top:1048px;width:1px;height:10px;background:#9fadba"></div>
<div class="wm" style="left:911px;top:1006px">www.coin001.com</div></body></html>
